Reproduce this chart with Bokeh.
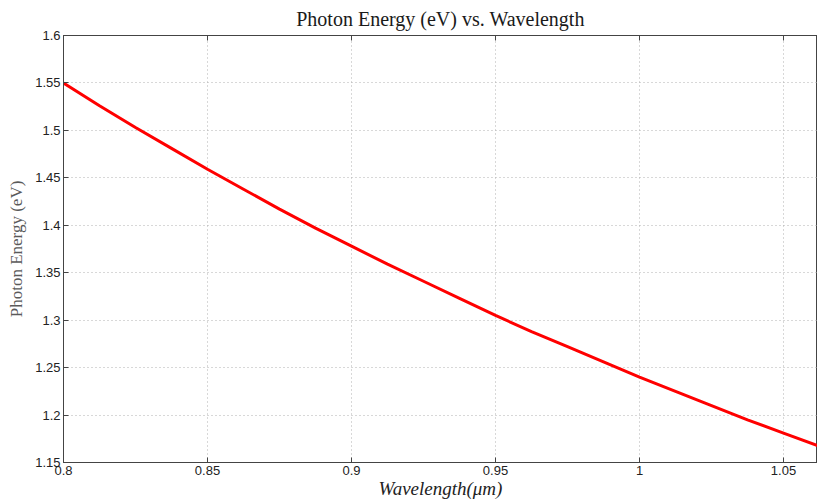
from bokeh.plotting import figure
from bokeh.models import LinearAxis, FixedTicker, CustomJSTickFormatter, Range1d
from bokeh.embed import file_html
from bokeh.resources import INLINE

wavelength_um = [0.8, 0.8125, 0.825, 0.8375, 0.85, 0.8625, 0.875, 0.8875, 0.9, 0.9125, 0.925,
                 0.9375, 0.95, 0.9625, 0.975, 0.9875, 1.0, 1.0125, 1.025, 1.0375, 1.05, 1.0625]
energy_ev = [1.550, 1.526, 1.503, 1.481, 1.459, 1.438, 1.417, 1.397, 1.378, 1.359, 1.341,
             1.323, 1.305, 1.288, 1.272, 1.256, 1.240, 1.225, 1.210, 1.195, 1.181, 1.167]
x_ticks = [0.8, 0.85, 0.9, 0.95, 1.0, 1.05]
y_ticks = [1.15, 1.2, 1.25, 1.3, 1.35, 1.4, 1.45, 1.5, 1.55, 1.6]

p = figure(width=817, height=503, output_backend="svg", toolbar_location=None,
           x_range=Range1d(0.8, 1.0618), y_range=Range1d(1.15, 1.6),
           min_border_left=63, min_border_right=0, min_border_top=35, min_border_bottom=41,
           x_axis_label="Wavelength(μm)", y_axis_label="Photon Energy (eV)")

p.title.text = "Photon Energy (eV) vs. Wavelength"
p.title.align = "center"
p.title.text_font = "Liberation Serif"
p.title.text_font_size = "20px"
p.title.text_font_style = "normal"
p.title.text_color = "#1a1a1a"
p.title.offset = 0
p.title.standoff = 11

p.outline_line_color = "#444444"
p.outline_line_width = 1
p.background_fill_color = "white"
p.border_fill_color = "white"

fmt = CustomJSTickFormatter(code="var s = tick.toFixed(2); s = s.replace(/0+$/, ''); s = s.replace(/\\.$/, ''); return s;")

for ax, ticks in ((p.xaxis[0], x_ticks), (p.yaxis[0], y_ticks)):
    ax.ticker = FixedTicker(ticks=ticks)
    ax.formatter = fmt
    ax.major_tick_in = 5
    ax.major_tick_out = 0
    ax.minor_tick_line_color = None
    ax.axis_line_color = "#444444"
    ax.major_tick_line_color = "#444444"
    ax.major_label_text_font = "Liberation Sans"
    ax.major_label_text_font_size = "13px"
    ax.major_label_text_color = "#222222"
    ax.major_label_standoff = 3

p.xaxis.axis_label_text_font = "Liberation Serif"
p.xaxis.axis_label_text_font_style = "italic"
p.xaxis.axis_label_text_font_size = "19px"
p.xaxis.axis_label_text_color = "#222222"
p.xaxis.axis_label_standoff = 0

p.yaxis.axis_label_text_font = "Liberation Serif"
p.yaxis.axis_label_text_font_style = "normal"
p.yaxis.axis_label_text_font_size = "17px"
p.yaxis.axis_label_text_color = "#5a5a5a"
p.yaxis.axis_label_standoff = 6

top = LinearAxis(ticker=FixedTicker(ticks=x_ticks), major_label_text_font_size="0px",
                 major_tick_in=5, major_tick_out=0, minor_tick_line_color=None,
                 axis_line_color="#444444", major_tick_line_color="#444444")
top.major_label_text_color = None
p.add_layout(top, "above")

p.xgrid.ticker = FixedTicker(ticks=x_ticks)
p.ygrid.ticker = FixedTicker(ticks=y_ticks)
for g in (p.xgrid[0], p.ygrid[0]):
    g.grid_line_color = "#b0b0b0"
    g.grid_line_dash = "1 3"
    g.grid_line_width = 1

p.line(wavelength_um, energy_ev, line_color="#ff0000", line_width=3)

open("out.html", "w").write(file_html(p, INLINE))
